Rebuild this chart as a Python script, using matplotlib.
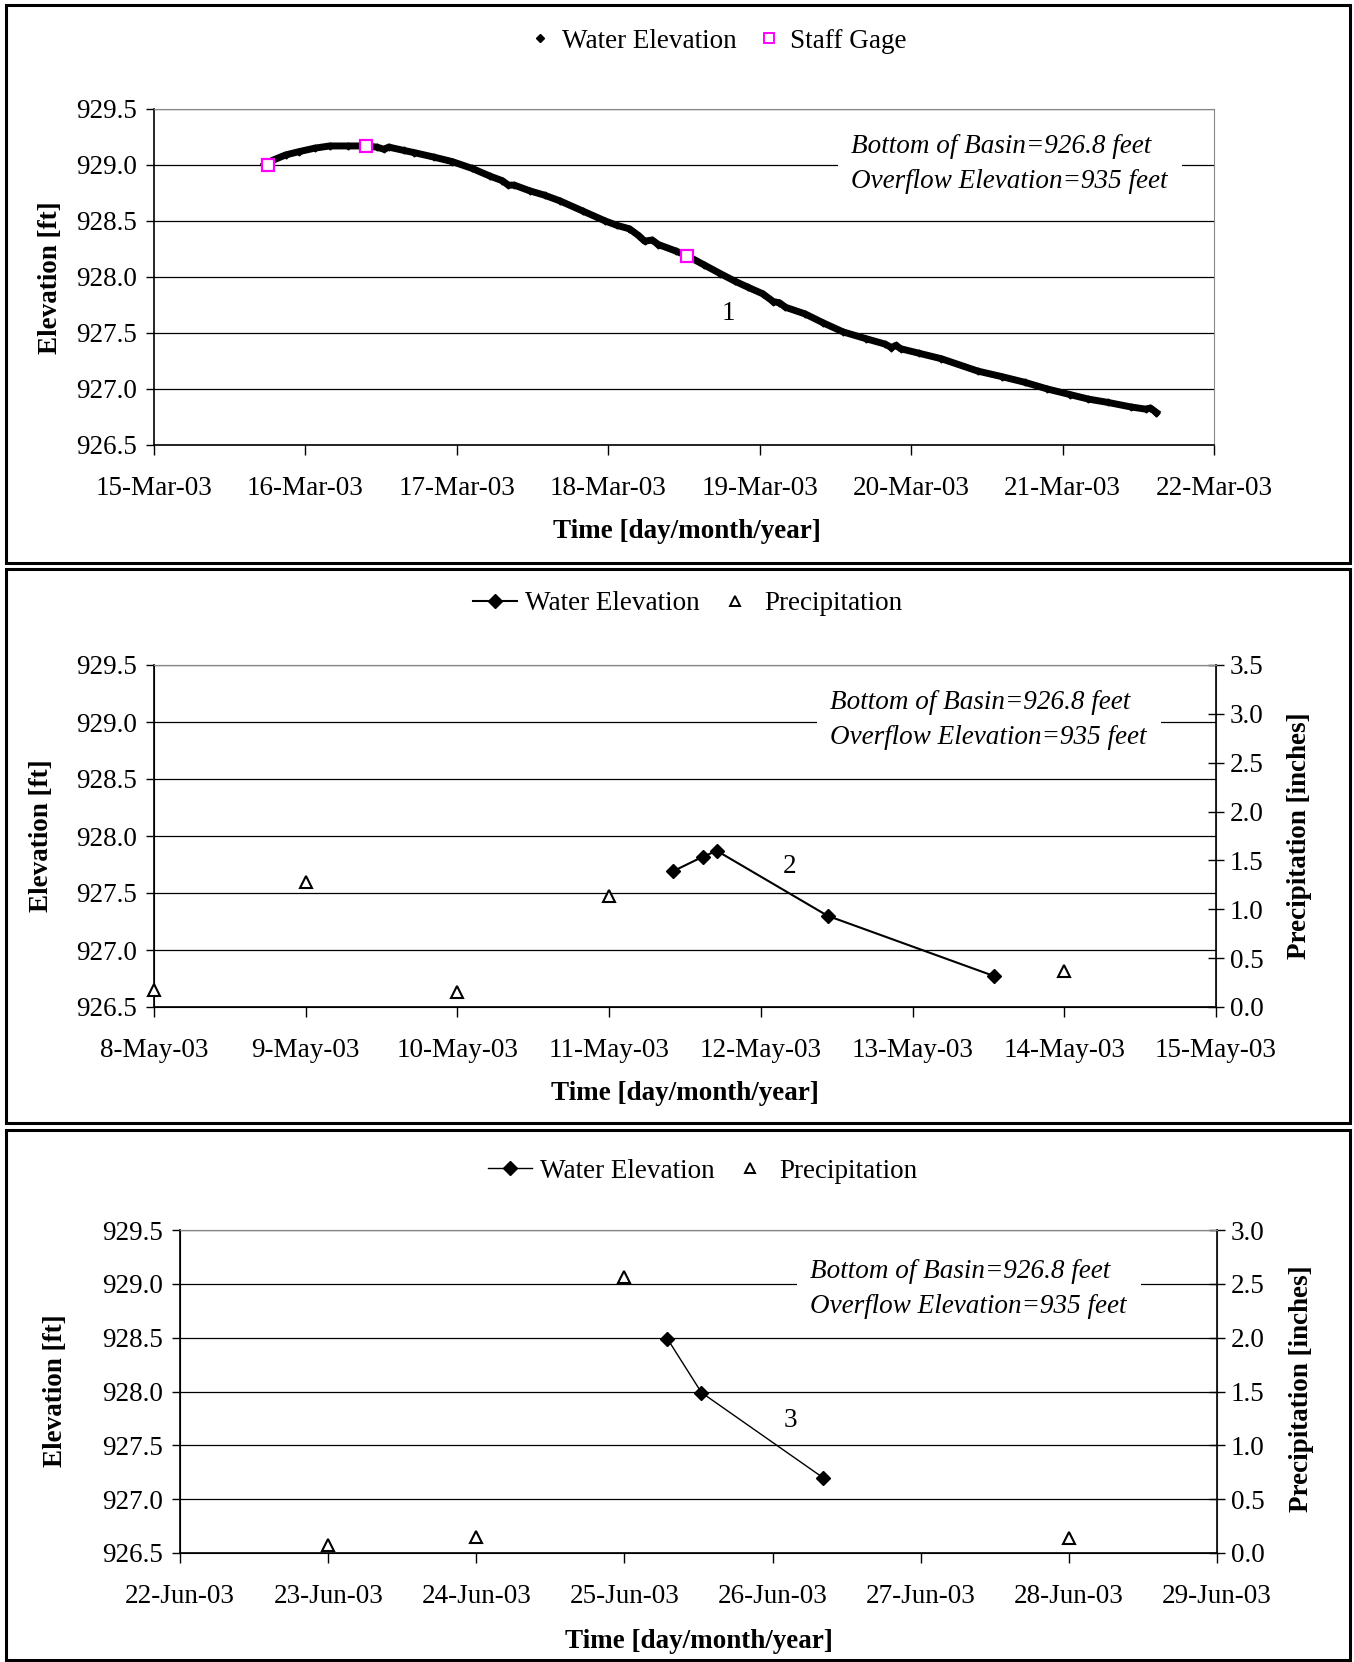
import matplotlib
matplotlib.use("Agg")
import matplotlib.pyplot as plt
import matplotlib.dates as mdates
from matplotlib.lines import Line2D
from matplotlib.patches import Rectangle
from datetime import datetime

plt.rcParams['font.family'] = ['Liberation Serif', 'DejaVu Serif']
plt.rcParams['font.size'] = 19.5

W, H = 1354, 1662
FS = 19.5

# --- DATA ---
# panel 1: March 2003, day of month (decimal) vs elevation [ft]
mar_day = [15.73, 15.78, 15.87, 15.96, 16.06, 16.16, 16.28, 16.39, 16.47, 16.52, 16.55,
           16.65, 16.72, 16.85, 16.97, 17.10, 17.22, 17.30, 17.34, 17.38, 17.48, 17.58,
           17.68, 17.83, 17.98, 18.06, 18.14, 18.20, 18.24, 18.29, 18.33, 18.45, 18.52,
           18.63, 18.74, 18.84, 18.92, 19.02, 19.09, 19.13, 19.17, 19.30, 19.42, 19.55,
           19.70, 19.83, 19.87, 19.90, 19.93, 20.05, 20.20, 20.44, 20.60, 20.75, 20.90,
           21.05, 21.17, 21.30, 21.45, 21.55, 21.58, 21.62]
mar_elev = [929.00, 929.04, 929.09, 929.12, 929.15, 929.17, 929.17, 929.17, 929.16, 929.14, 929.16,
            929.13, 929.11, 929.07, 929.03, 928.97, 928.90, 928.86, 928.82, 928.82, 928.77, 928.73,
            928.68, 928.59, 928.50, 928.46, 928.43, 928.37, 928.32, 928.33, 928.29, 928.23, 928.19,
            928.11, 928.03, 927.96, 927.91, 927.85, 927.78, 927.77, 927.73, 927.67, 927.59, 927.51,
            927.45, 927.40, 927.37, 927.39, 927.36, 927.32, 927.27, 927.16, 927.11, 927.06, 927.00,
            926.95, 926.91, 926.88, 926.84, 926.82, 926.83, 926.79]
gage_day = [15.75, 16.40, 18.52]
gage_elev = [929.00, 929.17, 928.19]

# panel 2: May 2003
may_day = [11.42, 11.62, 11.71, 12.44, 13.54]
may_elev = [927.69, 927.82, 927.87, 927.30, 926.77]
may_rain_day = [8, 9, 10, 11, 14]
may_rain = [0.17, 1.28, 0.15, 1.14, 0.37]

# panel 3: June 2003
jun_day = [25.29, 25.52, 26.34]
jun_elev = [928.49, 927.99, 927.20]
jun_rain_day = [23, 24, 25, 28]
jun_rain = [0.07, 0.15, 2.56, 0.14]

elev_ticks = [926.5, 927.0, 927.5, 928.0, 928.5, 929.0, 929.5]
note = "Bottom of Basin=926.8 feet\nOverflow Elevation=935 feet"


def to_num(month, days):
    base = mdates.date2num(datetime(2003, month, 1))
    return [base + d - 1 for d in days]


def fmt_date(x, pos=None):
    d = mdates.num2date(x)
    return f"{d.day}-{d:%b-%y}"


def box(x0, y0, x1, y1):
    return [x0 / W, 1 - y1 / H, (x1 - x0) / W, (y1 - y0) / H]


def style_axes(ax, month, d0):
    ax.set_xlim(to_num(month, [d0])[0], to_num(month, [d0 + 7])[0])
    ax.set_xticks(to_num(month, list(range(d0, d0 + 8))))
    ax.xaxis.set_major_formatter(plt.FuncFormatter(fmt_date))
    ax.set_ylim(926.5, 929.5)
    ax.set_yticks(elev_ticks)
    ax.set_yticklabels([f"{v:.1f}" for v in elev_ticks])
    ax.grid(axis='y', color='black', lw=0.9)
    ax.set_axisbelow(True)
    ax.tick_params(axis='x', direction='out', length=7, width=1, pad=15, labelsize=FS)
    ax.tick_params(axis='y', direction='out', length=6, width=1, pad=6, labelsize=FS)
    for s in ['top', 'right']:
        ax.spines[s].set_color('#888888')
    for s in ['left', 'bottom']:
        ax.spines[s].set_linewidth(1.2)


def style_right(axr, top):
    vals = [v * 0.5 for v in range(int(top * 2) + 1)]
    axr.set_ylim(0, top)
    axr.set_yticks(vals)
    axr.set_yticklabels([f"{v:.1f}" for v in vals])
    axr.tick_params(direction='inout', length=12, width=1, pad=4, labelsize=FS)
    axr.spines['right'].set_color('black')
    axr.spines['right'].set_linewidth(1.2)
    axr.spines['top'].set_color('#888888')


def add_note(ax, x, y):
    ax.text(x, y, note, transform=ax.transAxes, fontstyle='italic', fontsize=FS,
            va='center', ha='left', linespacing=1.55, zorder=10,
            bbox=dict(boxstyle='square,pad=0.5', fc='white', ec='none'))


fig = plt.figure(figsize=(W / 100, H / 100), dpi=100)

# panel frames
for (x0, y0, x1, y1) in [(6, 5, 1350, 563), (6, 569, 1350, 1123), (6, 1130, 1350, 1660)]:
    fig.patches.append(Rectangle((x0 / W, 1 - y1 / H), (x1 - x0) / W, (y1 - y0) / H,
                                 transform=fig.transFigure, fill=False, ec='black', lw=2.2))

# --- PANEL 1 ---
ax1 = fig.add_axes(box(154, 109, 1214, 445))
style_axes(ax1, 3, 15)
ax1.plot(to_num(3, mar_day), mar_elev, color='black', lw=5, marker='D', ms=3.5, zorder=3)
ax1.plot(to_num(3, gage_day), gage_elev, ls='none', marker='s', ms=8, mfc='white',
         mec='#ff00ff', mew=1.6, zorder=4)
ax1.text(to_num(3, [18.79])[0], 927.67, "1", fontsize=FS, ha='center', va='center')
add_note(ax1, 0.658, 0.836)
h1 = [Line2D([], [], ls='none', marker='D', ms=4, color='black'),
      Line2D([], [], ls='none', marker='s', ms=7, mfc='white', mec='#ff00ff', mew=1.4)]
fig.legend(h1, ["Water Elevation", "Staff Gage"], loc='center', bbox_to_anchor=(718 / W, 1 - 41 / H),
           ncol=2, frameon=False, fontsize=FS, handlelength=0.8, handletextpad=0.4, columnspacing=0.8)
fig.text(687 / W, 1 - 531 / H, "Time [day/month/year]", fontweight='bold', ha='center', va='center')
fig.text(51 / W, 1 - 278 / H, "Elevation [ft]", fontweight='bold', rotation=90, ha='center', va='center')

# --- PANEL 2 ---
ax2 = fig.add_axes(box(154, 665, 1216, 1007))
style_axes(ax2, 5, 8)
ax2.plot(to_num(5, may_day), may_elev, color='black', lw=1.5, marker='D', ms=7, zorder=3)
ax2r = ax2.twinx()
style_right(ax2r, 3.5)
ax2r.plot(to_num(5, may_rain_day), may_rain, ls='none', marker='^', ms=8, mfc='white',
          mec='black', mew=1.5, clip_on=False, zorder=4)
ax2r.text(to_num(5, [12.19])[0], 1.44, "2", fontsize=FS, ha='center', va='center')
add_note(ax2r, 0.637, 0.839)
h2 = [Line2D([], [], color='black', lw=1.5, marker='D', ms=7),
      Line2D([], [], ls='none', marker='^', ms=7, mfc='white', mec='black', mew=1.4)]
fig.legend(h2, ["Water Elevation", "Precipitation"], loc='center', bbox_to_anchor=(688 / W, 1 - 604 / H),
           ncol=2, frameon=False, fontsize=FS, handlelength=1.6, handletextpad=0.3, columnspacing=0.5)
fig.text(685 / W, 1 - 1094 / H, "Time [day/month/year]", fontweight='bold', ha='center', va='center')
fig.text(42 / W, 1 - 836 / H, "Elevation [ft]", fontweight='bold', rotation=90, ha='center', va='center')
fig.text(1300 / W, 1 - 836 / H, "Precipitation [inches]", fontweight='bold', rotation=90,
         ha='center', va='center')

# --- PANEL 3 ---
ax3 = fig.add_axes(box(180, 1230, 1217, 1553))
style_axes(ax3, 6, 22)
ax3.plot(to_num(6, jun_day), jun_elev, color='black', lw=1.0, marker='D', ms=7, zorder=3)
ax3r = ax3.twinx()
style_right(ax3r, 3.0)
ax3r.plot(to_num(6, jun_rain_day), jun_rain, ls='none', marker='^', ms=8, mfc='white',
          mec='black', mew=1.5, clip_on=False, zorder=4)
ax3r.text(to_num(6, [26.12])[0], 1.23, "3", fontsize=FS, ha='center', va='center')
add_note(ax3r, 0.608, 0.818)
h3 = [Line2D([], [], color='black', lw=1.0, marker='D', ms=7),
      Line2D([], [], ls='none', marker='^', ms=7, mfc='white', mec='black', mew=1.4)]
fig.legend(h3, ["Water Elevation", "Precipitation"], loc='center', bbox_to_anchor=(703 / W, 1 - 1171 / H),
           ncol=2, frameon=False, fontsize=FS, handlelength=1.6, handletextpad=0.3, columnspacing=0.5)
fig.text(699 / W, 1 - 1641 / H, "Time [day/month/year]", fontweight='bold', ha='center', va='center')
fig.text(56 / W, 1 - 1391 / H, "Elevation [ft]", fontweight='bold', rotation=90, ha='center', va='center')
fig.text(1302 / W, 1 - 1389 / H, "Precipitation [inches]", fontweight='bold', rotation=90,
         ha='center', va='center')

fig.savefig("out.png", dpi=100)
